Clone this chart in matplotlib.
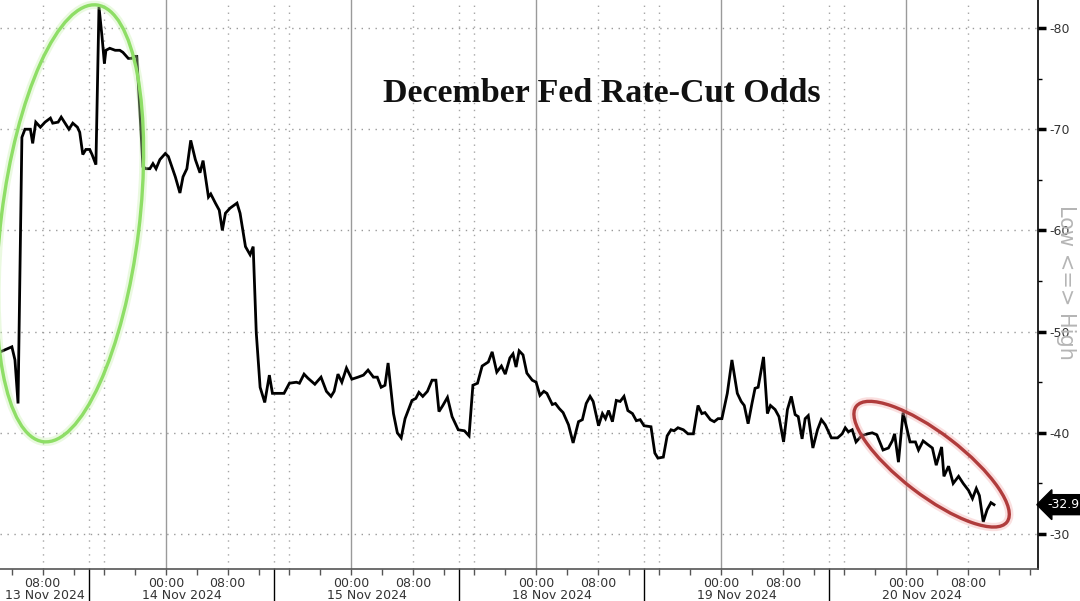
import matplotlib
matplotlib.use("Agg")
import matplotlib.pyplot as plt
import matplotlib.transforms as mtransforms
from matplotlib.patches import Ellipse
import numpy as np

# time axis: hours since 13 Nov 2024 00:00 on a trading-day scale
# (weekend dropped, so 18 Nov 00:00 comes right after 15 Nov 24:00)
hours = [
    2.5, 4.0, 4.4, 4.8, 5.3, 5.7, 6.4, 6.7, 7.1, 7.7, 8.3, 9.0, 9.3, 10.0, 10.4,
    10.9, 11.4, 11.9, 12.5, 12.8, 13.2, 13.6, 14.1, 14.4, 14.9, 15.3, 15.7, 16.0,
    16.2, 16.7, 17.4, 18.0, 18.4, 19.1, 19.5, 19.9, 20.2, 20.6, 21.0, 21.4, 21.9,
    22.3, 22.7, 23.2, 23.9, 24.3, 25.2, 25.8, 26.2, 26.7, 27.2, 27.8, 28.4, 28.8,
    29.5, 29.8, 30.4, 30.9, 31.3, 31.7, 32.3, 33.2, 33.6, 34.3, 34.9, 35.3, 35.7,
    36.2, 36.8, 37.4, 37.8, 39.3, 40.0, 40.9, 41.3, 41.9, 42.4, 43.3, 44.1, 44.8,
    45.4, 45.8, 46.3, 46.8, 47.4, 48.1, 48.9, 49.6, 50.2, 50.9, 51.4, 51.9, 52.4,
    52.8, 53.5, 54.0, 54.5, 55.0, 55.9, 56.4, 56.8, 57.3, 57.9, 58.5, 59.0, 59.4,
    59.9, 60.5, 61.1, 61.9, 62.7, 63.3, 63.8, 64.4, 65.0, 65.8, 66.3, 66.9, 67.5,
    68.0, 68.6, 69.0, 69.4, 69.8, 70.3, 70.8, 71.5, 72.0, 72.5, 73.0, 73.4, 74.1,
    74.5, 75.0, 75.5, 76.2, 76.8, 77.5, 78.0, 78.5, 79.0, 79.4, 80.1, 80.6, 81.0,
    81.4, 81.9, 82.4, 82.9, 83.4, 83.9, 84.5, 85.0, 85.5, 86.0, 86.9, 87.4, 87.8,
    88.5, 89.0, 89.5, 89.9, 90.4, 91.1, 91.7, 92.4, 93.0, 93.5, 93.9, 94.6, 95.1,
    95.6, 96.1, 96.8, 97.4, 98.1, 98.6, 99.0, 99.5, 100.0, 100.4, 100.8, 101.5,
    102.0, 102.4, 103.0, 103.5, 104.1, 104.6, 105.1, 105.6, 106.0, 106.5, 106.9,
    107.3, 107.9, 108.5, 109.0, 109.5, 110.3, 111.1, 111.7, 112.1, 112.5, 113.0,
    113.5, 114.2, 115.0, 115.6, 116.2, 117.0, 117.7, 118.2, 118.5, 119.0, 119.6,
    120.1, 120.5, 121.2, 121.6, 122.2, 122.7, 123.4, 123.9, 124.6, 124.9, 125.5,
    126.1, 126.8, 127.4, 128.1, 128.6, 129.1, 129.5, 130.0, 130.5, 131.0, 131.4,
]
odds = [
    48.0, 48.5, 47.2, 42.9, 69.2, 70.0, 70.0, 68.6, 70.7, 70.2, 70.7, 71.1, 70.6, 70.7, 71.2,
    70.6, 70.0, 70.6, 70.2, 69.7, 67.5, 68.0, 68.0, 67.5, 66.5, 82.1, 79.1, 76.5,
    77.8, 78.0, 77.8, 77.8, 77.6, 77.0, 77.0, 77.2, 77.2, 71.9, 66.3, 66.1, 66.1,
    66.6, 66.1, 67.0, 67.6, 67.3, 65.3, 63.7, 65.3, 66.1, 68.9, 67.0, 65.7, 66.9,
    63.3, 63.6, 62.7, 62.0, 60.0, 61.7, 62.2, 62.7, 61.7, 58.4, 57.6, 58.4, 49.9,
    44.5, 43.0, 45.7, 43.9, 43.9, 44.9, 45.0, 44.9, 45.8, 45.4, 44.8, 45.5, 44.1,
    43.6, 44.1, 45.8, 45.0, 46.4, 45.3, 45.5, 45.7, 46.2, 45.5, 45.5, 44.5, 44.7,
    46.9, 41.9, 40.0, 39.5, 41.4, 43.2, 43.4, 44.0, 43.6, 44.1, 45.2, 45.2, 42.1,
    42.7, 43.5, 41.6, 40.3, 40.2, 39.7, 44.7, 44.9, 46.6, 47.0, 48.0, 46.0, 46.6,
    45.8, 47.4, 47.8, 46.5, 48.1, 47.7, 45.9, 45.2, 45.0, 43.7, 44.1, 43.9, 42.8,
    42.9, 42.4, 42.0, 40.8, 39.0, 41.1, 41.3, 42.9, 43.6, 43.1, 40.7, 41.9, 41.4,
    42.2, 41.1, 43.2, 43.1, 43.6, 42.2, 41.9, 41.2, 41.3, 40.7, 40.6, 38.0, 37.5,
    37.6, 39.7, 40.3, 40.2, 40.5, 40.3, 39.9, 39.9, 42.7, 41.9, 42.0, 41.3, 41.1,
    41.4, 41.4, 43.9, 47.2, 43.9, 43.1, 42.7, 40.9, 42.9, 44.4, 44.5, 47.5,
    41.9, 42.7, 42.3, 41.6, 39.1, 42.3, 43.6, 41.8, 41.6, 39.4, 41.4,
    41.7, 38.5, 40.3, 41.3, 40.8, 39.5, 39.5, 39.9, 40.5, 40.1, 40.3,
    39.1, 39.7, 39.9, 40.0, 39.8, 38.3, 38.5, 39.2, 39.9, 37.1, 42.0,
    40.4, 39.1, 39.1, 38.3, 39.2, 38.9, 38.5, 36.8, 38.6, 35.7, 36.7,
    35.0, 35.7, 35.0, 34.3, 33.5, 34.5, 33.8, 31.2, 32.4, 33.1, 32.9,
]

day_labels = ["13 Nov 2024", "14 Nov 2024", "15 Nov 2024",
              "18 Nov 2024", "19 Nov 2024", "20 Nov 2024"]
y_ticks = [30, 40, 50, 60, 70, 80]
x_lo, x_hi = 2.46, 137.1
y_lo, y_hi = 26.54, 82.77

fig = plt.figure(figsize=(10.8, 6.01), dpi=100)
ax = fig.add_axes([0.0, 0.0532, 0.9611, 0.9468])

dots = (0, (1, 4))
# grid: solid at midnight, dotted at 08:00, 14:00 (date split) and 16:00,
# only up to the last print
for i in range(len(day_labels)):
    d0 = 24 * i
    ax.axvline(d0, color="#9a9a9a", lw=1.0, zorder=1)
    for off in (8, 14, 16):
        if d0 + off <= hours[-1]:
            ax.axvline(d0 + off, color="#a5a5a5", lw=1.0, ls=dots, zorder=1)
for v in y_ticks:
    ax.axhline(v, color="#9a9a9a", lw=1.0, ls=dots, zorder=1)

ax.plot(hours, odds, color="black", lw=2.0, zorder=3, solid_joinstyle="miter")

# axes styling
for s in ("left", "top"):
    ax.spines[s].set_visible(False)
ax.spines["right"].set_color("black")
ax.spines["right"].set_linewidth(1.2)
ax.spines["bottom"].set_color("#555555")
ax.spines["bottom"].set_linewidth(1.2)

ax.yaxis.tick_right()
ax.set_yticks(y_ticks)
ax.set_yticklabels([f"-{v}" for v in y_ticks])
ax.set_yticks([35, 45, 55, 65, 75], minor=True)
ax.tick_params(axis="y", which="major", length=6, width=2.5, pad=2,
               labelsize=9, labelcolor="#333333", colors="black")
ax.tick_params(axis="y", which="major", labelcolor="#333333")
ax.tick_params(axis="y", which="minor", length=3, width=1, color="black")

xt = np.arange(4, 140, 4)
ax.set_xticks(xt)
ax.set_xticklabels([f"{int(h % 24):02d}:00" if h % 24 in (0, 8) else "" for h in xt])
ax.tick_params(axis="x", length=4, width=1, color="#555555", pad=2,
               labelsize=9, labelcolor="#333333")

# limits after the ticks, since set_xticks can widen them
ax.set_xlim(x_lo, x_hi)
ax.set_ylim(y_lo, y_hi)

# date split marks and date names below the time labels
xb = mtransforms.blended_transform_factory(ax.transData, ax.transAxes)
for i, name in enumerate(day_labels):
    split = 24 * i + 14
    if i < len(day_labels) - 1:
        ax.plot([split, split], [0, -0.06], color="black", lw=1.0,
                transform=xb, clip_on=False)
    left = max(24 * (i - 1) + 14, x_lo)
    ax.text((left + split) / 2, -0.047, name, transform=xb, ha="center", va="center",
            fontsize=9, color="#333333")

# last value tag
yb = mtransforms.blended_transform_factory(ax.transAxes, ax.transData)
ax.text(1.0095, odds[-1], f"-{odds[-1]:.1f}", transform=yb, ha="left", va="center",
        color="white", fontsize=9, zorder=5,
        bbox=dict(boxstyle="larrow,pad=0.28", fc="black", ec="black"))

# highlight rings (sizes in pixels of the 100 dpi figure)
def ring(cx, cy, w, h, ang, color, glow):
    tr = fig.dpi_scale_trans + mtransforms.ScaledTranslation(cx, cy, ax.transData)
    ax.add_patch(Ellipse((0, 0), w / 100, h / 100, angle=ang, transform=tr, fill=False,
                         ec=glow, lw=6, alpha=0.35, zorder=4, clip_on=False))
    ax.add_patch(Ellipse((0, 0), w / 100, h / 100, angle=ang, transform=tr, fill=False,
                         ec=color, lw=2.4, zorder=4, clip_on=False))

ring(11.55, 60.7, 138, 440, -7, "#8ede66", "#c4f0a8")
ring(123.3, 36.9, 190, 62, -37.5, "#b03c3c", "#f2a6a6")

ax.set_xlim(x_lo, x_hi)
ax.set_ylim(y_lo, y_hi)

fig.text(602 / 1080, 1 - 93 / 601, "December Fed Rate-Cut Odds", ha="center", va="center",
         fontsize=24.5, fontweight="bold", fontfamily="Liberation Serif", color="#111111")
fig.text(1066 / 1080, 1 - 282 / 601, "Low <=> High", rotation=270, ha="center", va="center",
         fontsize=15, color="#b5b5b5")

fig.savefig("out.png", dpi=100, facecolor="white")
